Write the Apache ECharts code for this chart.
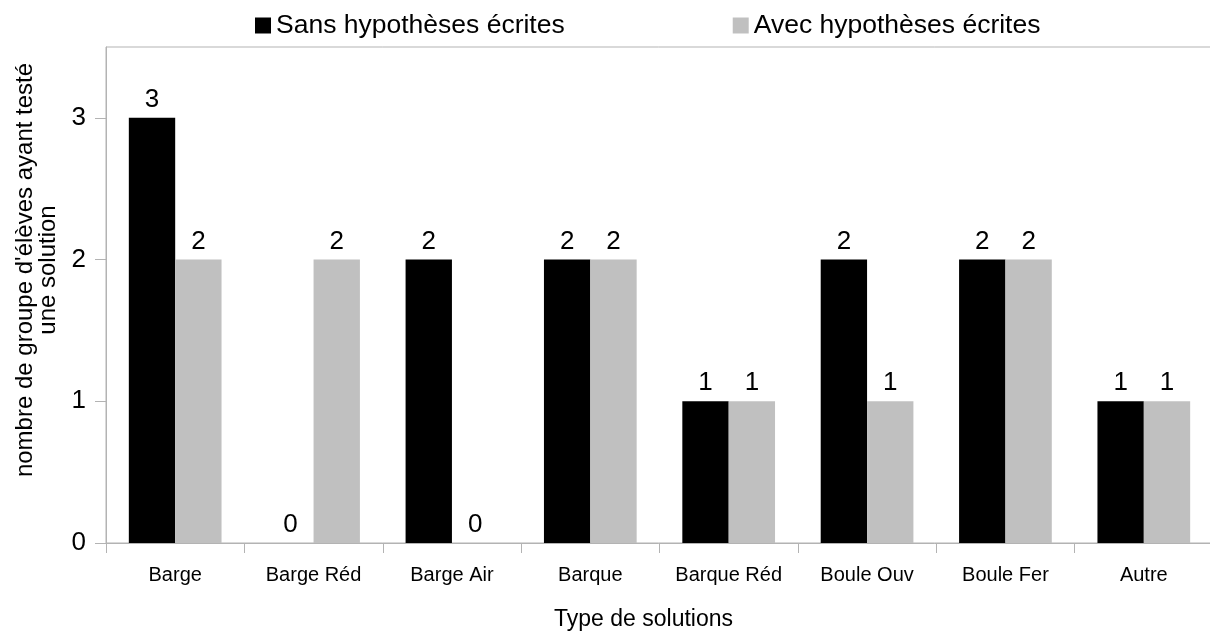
<!DOCTYPE html>
<html>
<head>
<meta charset="utf-8">
<title>Type de solutions</title>
<script src="https://cdn.jsdelivr.net/npm/echarts@6/dist/echarts.min.js"></script>
<style>
  html, body { margin: 0; padding: 0; background: #fff; }
  #chart { width: 1210px; height: 632px; }
</style>
</head>
<body>
<div id="chart"></div>
<script>
// données
const CATEGORIES = ['Barge', 'Barge Réd', 'Barge Air', 'Barque', 'Barque Réd', 'Boule Ouv', 'Boule Fer', 'Autre'];
const SANS_HYPOTHESES = [3, 0, 2, 2, 1, 2, 2, 1];
const AVEC_HYPOTHESES = [2, 2, 0, 2, 1, 1, 2, 1];
const Y_TICKS = [0, 1, 2, 3];

const FONT = '"Liberation Sans", Arial, sans-serif';
const AXIS_GREY = '#b3b3b3';

const chart = echarts.init(document.getElementById('chart'), null, { renderer: 'canvas' });

const barLabel = {
  show: true,
  position: 'top',
  distance: 5,
  fontFamily: FONT,
  fontSize: 26,
  color: '#000'
};

const option = {
  animation: false,
  backgroundColor: '#fff',
  textStyle: { fontFamily: FONT },
  legend: {
    left: 250,
    top: 7,
    itemWidth: 16,
    itemHeight: 16,
    itemGap: 168,
    icon: 'rect',
    textStyle: { fontFamily: FONT, fontSize: 26.5, color: '#000' },
    data: ['Sans hypothèses écrites', 'Avec hypothèses écrites']
  },
  // la zone de tracé déborde un peu à droite de l'image
  grid: {
    left: 106,
    width: 1107,
    top: 47,
    bottom: 89,
    outerBoundsMode: 'none',
    containLabel: false,
    show: true,
    borderColor: AXIS_GREY,
    borderWidth: 1,
    backgroundColor: 'transparent'
  },
  xAxis: {
    type: 'category',
    data: CATEGORIES,
    name: 'Type de solutions',
    nameLocation: 'middle',
    nameGap: 65,
    nameTextStyle: { fontFamily: FONT, fontSize: 23, color: '#000', padding: [0, 32, 0, 0] },
    axisLine: { show: true, lineStyle: { color: AXIS_GREY, width: 1 } },
    axisTick: { show: true, length: 10, alignWithLabel: false, lineStyle: { color: AXIS_GREY } },
    axisLabel: { interval: 0, margin: 22, fontFamily: FONT, fontSize: 20, color: '#000' },
    splitLine: { show: false }
  },
  yAxis: {
    type: 'value',
    min: 0,
    max: 3.5,
    interval: 1,
    name: "nombre de groupe d'élèves ayant testé\nune solution",
    nameLocation: 'middle',
    nameGap: 46,
    nameRotate: 90,
    nameTextStyle: {
      fontFamily: FONT,
      fontSize: 24,
      lineHeight: 23,
      color: '#000',
      align: 'center',
      padding: [0, 0, 0, 50]
    },
    axisLine: { show: true, lineStyle: { color: AXIS_GREY, width: 1 } },
    axisTick: { show: true, length: 11, customValues: Y_TICKS, lineStyle: { color: AXIS_GREY } },
    axisLabel: { customValues: Y_TICKS, margin: 20, fontFamily: FONT, fontSize: 26, color: '#000' },
    splitLine: { show: false }
  },
  series: [
    {
      name: 'Sans hypothèses écrites',
      type: 'bar',
      data: SANS_HYPOTHESES,
      barGap: '0%',
      barCategoryGap: '33%',
      itemStyle: { color: '#000000' },
      label: barLabel
    },
    {
      name: 'Avec hypothèses écrites',
      type: 'bar',
      data: AVEC_HYPOTHESES,
      barGap: '0%',
      barCategoryGap: '33%',
      itemStyle: { color: '#c0c0c0' },
      label: barLabel
    }
  ]
};

chart.setOption(option);
</script>
</body>
</html>
